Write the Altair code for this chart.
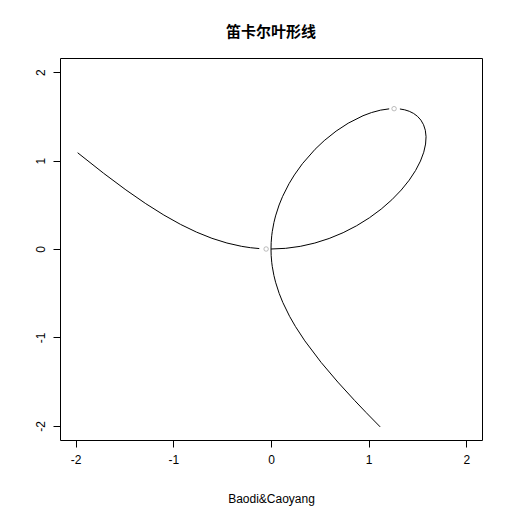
import altair as alt
import pandas as pd

# Left branch (upper-left, approaching the origin)
left_x = [-1.9793, -1.7143, -1.4854, -1.2821, -1.0970, -0.9250, -0.7619, -0.6048, -0.4515, -0.3003, -0.2101, -0.1200]
left_y = [1.0886, 0.8571, 0.6684, 0.5128, 0.3840, 0.2775, 0.1905, 0.1210, 0.0677, 0.0300, 0.0147, 0.0048]

# Loop, lower/right arc: origin -> rightmost -> near the top
loop1_x = [0.0, 0.15, 0.2997, 0.4485, 0.5952, 0.7385, 0.8763, 1.0068, 1.1278, 1.2373, 1.3333, 1.4146,
           1.4803, 1.5299, 1.5637, 1.5824, 1.5873, 1.5798, 1.5616, 1.5344, 1.5, 1.4599, 1.4157, 1.3686, 1.3196]
loop1_y = [0.0, 0.0075, 0.0300, 0.0673, 0.1190, 0.1846, 0.2629, 0.3524, 0.4511, 0.5568, 0.6667, 0.7780,
           0.8882, 0.9944, 1.0946, 1.1868, 1.2698, 1.3428, 1.4054, 1.4577, 1.5, 1.5329, 1.5573, 1.5739, 1.5836]

# Loop, upper/left arc: near the top -> back to the origin
loop2_x = [1.2099, 1.1218, 1.0286, 0.9419, 0.7904, 0.6667, 0.5448, 0.4511, 0.3214, 0.2393, 0.1846,
           0.1190, 0.0829, 0.0468, 0.0300, 0.0133, 0.0075, 0.0019, 0.0]
loop2_y = [1.5850, 1.5705, 1.5429, 1.5071, 1.4227, 1.3333, 1.2257, 1.1278, 0.9643, 0.8376, 0.7385,
           0.5952, 0.4977, 0.3743, 0.2997, 0.2000, 0.1500, 0.0750, 0.0]

# Lower branch: origin -> lower right
low_x = [0.0, 0.0019, 0.0075, 0.0133, 0.0300, 0.0470, 0.0837, 0.1210, 0.1905, 0.2507, 0.3462, 0.5128,
         0.6841, 0.8571, 0.9729, 1.1175]
low_y = [0.0, -0.075, -0.150, -0.2001, -0.3003, -0.3757, -0.5023, -0.6048, -0.7619, -0.8776, -1.0385,
         -1.2821, -1.5050, -1.7143, -1.8485, -2.0116]

# Small marker circles
pt_x = [-0.05, 1.26]
pt_y = [0.0, 1.587]

x_ticks = [-2, -1, 0, 1, 2]
y_ticks = [-2, -1, 0, 1, 2]

rows = []
for seg, xs, ys in [("left", left_x, left_y), ("loop1", loop1_x, loop1_y),
                    ("loop2", loop2_x, loop2_y), ("low", low_x, low_y)]:
    for i, (a, b) in enumerate(zip(xs, ys)):
        rows.append({"seg": seg, "i": i, "x": a, "y": b})
df = pd.DataFrame(rows)
pts = pd.DataFrame({"x": pt_x, "y": pt_y})

xs = alt.Scale(domain=[-2.16, 2.16], nice=False, zero=False)
ys = alt.Scale(domain=[-2.16, 2.16], nice=False, zero=False)

xaxis = alt.Axis(values=x_ticks, grid=False, domain=False, tickSize=7, tickColor="black",
                 labelColor="black", labelFontSize=12, labelFont="Liberation Sans", labelPadding=7,
                 labelExpr="toString(datum.value)",
                 title="Baodi&Caoyang", titleFont="Liberation Sans", titleFontSize=12,
                 titleFontWeight="normal", titleColor="black", titlePadding=28)
yaxis = alt.Axis(values=y_ticks, grid=False, domain=False, tickSize=7, tickColor="black",
                 labelColor="black", labelFontSize=12, labelFont="Liberation Sans", labelPadding=6,
                 labelExpr="toString(datum.value)",
                 labelAngle=270, labelAlign="center", labelBaseline="bottom", title=None)

lines = alt.Chart(df).mark_line(color="black", strokeWidth=1).encode(
    x=alt.X("x:Q", scale=xs, axis=xaxis),
    y=alt.Y("y:Q", scale=ys, axis=yaxis),
    detail="seg:N",
    order="i:Q",
)

points = alt.Chart(pts).mark_point(shape="circle", color="#888888", size=20, strokeWidth=0.8, filled=False).encode(
    x=alt.X("x:Q", scale=xs),
    y=alt.Y("y:Q", scale=ys),
)

chart = alt.layer(lines, points).properties(
    width=422, height=382,
    background="white",
    title=alt.TitleParams("笛卡尔叶形线", font="Noto Sans CJK SC", fontSize=15, fontWeight="bold",
                          anchor="middle", offset=18, color="black"),
    autosize=alt.AutoSizeParams(type="none"),
    padding={"left": 60, "top": 58, "right": 30, "bottom": 72},
).configure_view(stroke="black", strokeWidth=1)

chart.save("out.html", embed_options={"renderer": "svg", "actions": False})
